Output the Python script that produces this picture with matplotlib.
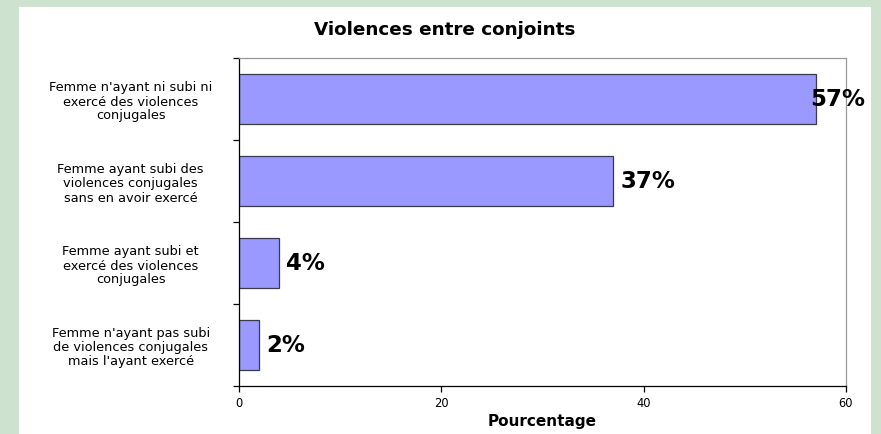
import matplotlib
matplotlib.use("Agg")
import matplotlib.pyplot as plt
from matplotlib.patches import Rectangle

categories = [
    "Femme n'ayant ni subi ni\nexercé des violences\nconjugales",
    "Femme ayant subi des\nviolences conjugales\nsans en avoir exercé",
    "Femme ayant subi et\nexercé des violences\nconjugales",
    "Femme n'ayant pas subi\nde violences conjugales\nmais l'ayant exercé",
]
values = [57, 37, 4, 2]
value_labels = ["57%", "37%", "4%", "2%"]
x_ticks = [0, 20, 40, 60]
title = "Violences entre conjoints"
xlabel = "Pourcentage"

label_offsets_pt = [-4, 5, 5, 5]

plt.rcParams['font.family'] = ['DejaVu Sans']

W, H = 881, 435
fig = plt.figure(figsize=(W / 100, H / 100), dpi=100)
fig.patch.set_facecolor('#cde3cf')
fig.patches.append(Rectangle((19 / W, 0), (871 - 19) / W, (435 - 8) / H,
                             transform=fig.transFigure, facecolor='white',
                             edgecolor='none', zorder=-10))

ax = fig.add_axes([239 / W, 48 / H, (846 - 239) / W, (387 - 59) / H])
ax.set_zorder(5)
ax.set_facecolor('white')
pos = list(range(len(categories)))
ax.barh(pos, values, height=0.62, color='#9999ff', edgecolor='#3a3a4a',
        linewidth=0.9, zorder=2)
ax.set_xlim(0, 60)
ax.set_ylim(len(categories) - 0.5, -0.5)

for p, v, lab, off in zip(pos, values, value_labels, label_offsets_pt):
    ax.annotate(lab, xy=(v, p), xytext=(off, 0), textcoords='offset points',
                ha='left', va='center', fontsize=16.5, fontweight='bold',
                color='black', zorder=3, annotation_clip=False)

ax.set_xticks(x_ticks)
ax.set_xticklabels([str(t) for t in x_ticks], fontsize=8.3)
ax.tick_params(axis='x', direction='out', length=4, width=0.9, pad=3)

ax.set_yticks([i - 0.5 for i in range(len(categories) + 1)])
ax.set_yticklabels([])
ax.tick_params(axis='y', which='major', direction='out', length=4, width=0.9)
ax.set_yticks(pos, minor=True)
ax.set_yticklabels(categories, minor=True, fontsize=9.3, ha='center',
                   multialignment='center', linespacing=1.1)
ax.tick_params(axis='y', which='minor', length=0, pad=78)

for s in ['top', 'right']:
    ax.spines[s].set_color('#999999')
    ax.spines[s].set_linewidth(0.9)
for s in ['left', 'bottom']:
    ax.spines[s].set_color('black')
    ax.spines[s].set_linewidth(0.9)

ax.set_xlabel(xlabel, fontsize=11, fontweight='bold', labelpad=3)
fig.text(445 / W, (435 - 30) / H, title, ha='center', va='center',
         fontsize=13.2, fontweight='bold')

fig.savefig('out.png', dpi=100, facecolor=fig.get_facecolor())
